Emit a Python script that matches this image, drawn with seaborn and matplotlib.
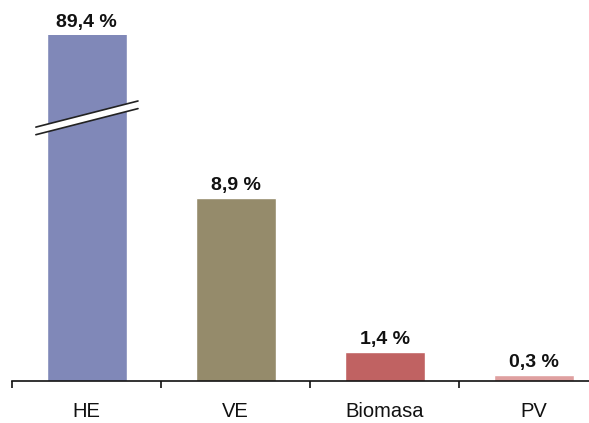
import matplotlib
matplotlib.use("Agg")
import matplotlib.pyplot as plt
import seaborn as sns
import pandas as pd
from matplotlib.patches import Polygon

categories = ["HE", "VE", "Biomasa", "PV"]
values = [89.4, 8.9, 1.4, 0.3]
colors = ["#8088B8", "#958B6B", "#C06262", "#DFA0A0"]

sns.set_theme(style="white")
plt.rcParams['font.family'] = ['Liberation Sans', 'DejaVu Sans']

df = pd.DataFrame({"cat": categories, "val": values})

fig = plt.figure(figsize=(5.89, 4.23), dpi=100)
ax = fig.add_axes([12/589, 1 - 381/423, 1 - 12/589, (381 - 35) / 423])

sns.barplot(data=df, x="cat", y="val", hue="cat", palette=colors,
            legend=False, width=0.537, ax=ax, saturation=1)

ymax = 16.83
ax.set_ylim(0, ymax)
ax.set_xlim(-0.5, 3.37)

for i, v in enumerate(values):
    txt = f"{v:.1f}".replace(".", ",") + " %"
    y = min(v, ymax)
    ax.annotate(txt, (i, y), xytext=(0, 3), textcoords="offset points",
                ha="center", va="bottom", fontsize=14, fontweight="bold",
                color="#111111", annotation_clip=False)

# axis break marks on the truncated bar
band = Polygon([(-0.34, 11.98), (0.345, 13.25), (0.345, 13.62), (-0.34, 12.35)],
               closed=True, facecolor="white", edgecolor="none", zorder=5)
ax.add_patch(band)
ax.plot([-0.34, 0.345], [11.98, 13.25], color="#222222", lw=1.2, zorder=6)
ax.plot([-0.34, 0.345], [12.35, 13.62], color="#222222", lw=1.2, zorder=6)

for s in ["top", "right", "left"]:
    ax.spines[s].set_visible(False)
ax.spines["bottom"].set_color("#111111")
ax.spines["bottom"].set_linewidth(1.2)
ax.set_yticks([])
ax.set_xlabel("")
ax.set_ylabel("")
ax.set_xticks([0, 1, 2, 3])
ax.set_xticklabels(categories, fontsize=14.5, color="#111111")
ax.tick_params(axis="x", which="major", length=0, pad=15)
ax.set_xticks([-0.5, 0.5, 1.5, 2.5], minor=True)
ax.tick_params(axis="x", which="minor", bottom=True, direction="out",
               length=5, width=1.2, color="#111111")

fig.savefig("out.png", dpi=100)
